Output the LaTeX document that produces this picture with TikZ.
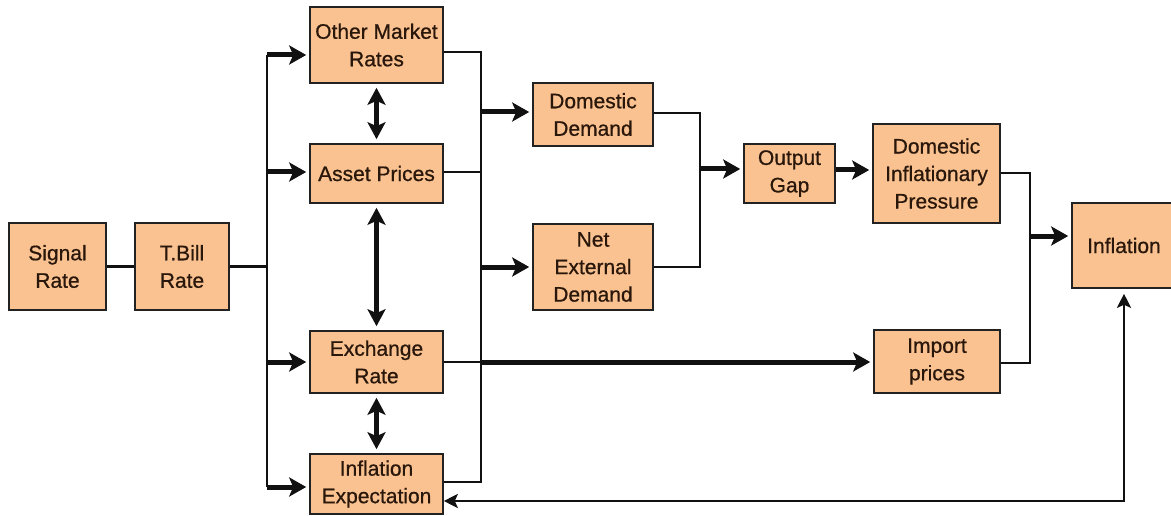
\documentclass[tikz,border=0pt]{standalone}
\usepackage{fontspec}
\setmainfont{Liberation Sans}[FakeBold=0.7]
\usetikzlibrary{arrows.meta}
\definecolor{boxfill}{HTML}{F9C290}
\definecolor{boxline}{HTML}{222222}
\definecolor{txt}{HTML}{2A170B}
\definecolor{ln}{HTML}{111111}
\newcommand\boxfont{\fontsize{21}{27.5}\selectfont}
\tikzset{
  box/.style={draw=boxline, line width=1.6pt, fill=boxfill, text=txt, align=center, inner sep=0pt, font=\boxfont},
  thinln/.style={line width=2.2pt, draw=ln},
  thickarrow/.style={line width=5pt, draw=ln, -{Stealth[length=17pt,width=19pt,inset=4pt]}, shorten >=3pt},
  dblarrow/.style={line width=5pt, draw=ln, {Stealth[length=17pt,width=18pt,inset=4pt]}-{Stealth[length=17pt,width=18pt,inset=4pt]}, shorten >=4pt, shorten <=4pt},
  fbarrow/.style={line width=2.6pt, draw=ln, {Stealth[length=14pt,width=14pt,inset=3pt]}-{Stealth[length=14pt,width=14pt,inset=3pt]}}
}
\begin{document}
\begin{tikzpicture}[x=1pt,y=-1pt]
\clip (0,0) rectangle (1171,516);
\fill[white] (0,0) rectangle (1171,516);

% boxes
\node[box, minimum width=97pt, minimum height=87pt] (signal) at (57.5,266.5) {Signal\\Rate};
\node[box, minimum width=94pt, minimum height=87pt] (tbill) at (182,266.5) {T.Bill\\Rate};
\node[box, minimum width=133pt, minimum height=76pt] (omr) at (376.5,45) {Other Market\\Rates};
\node[box, minimum width=133pt, minimum height=59pt] (asset) at (376.5,173.5) {Asset Prices};
\node[box, minimum width=133pt, minimum height=62pt] (exch) at (376.5,362) {Exchange\\Rate};
\node[box, minimum width=133pt, minimum height=60pt] (infexp) at (376.5,484) {Inflation\\Expectation};
\node[box, minimum width=120pt, minimum height=63pt] (dd) at (593,114.5) {Domestic\\Demand};
\node[box, minimum width=120pt, minimum height=86pt] (ned) at (593,267) {Net\\External\\Demand};
\node[box, minimum width=91pt, minimum height=59pt] (og) at (789.5,173.5) {Output\\Gap};
\node[box, minimum width=127pt, minimum height=99pt] (dip) at (936.5,173.5) {Domestic\\Inflationary\\Pressure};
\node[box, minimum width=126pt, minimum height=63pt] (imp) at (937,361.5) {Import\\prices};
\node[box, minimum width=104pt, minimum height=85pt] (infl) at (1124,245.5) {Inflation};

% trunk coordinates
\coordinate (ltTop) at (267,55);
\coordinate (ltA) at (267,172);
\coordinate (ltB) at (267,362);
\coordinate (ltBot) at (267,487);
\coordinate (rtTop) at (481,52);
\coordinate (rtA) at (481,172);
\coordinate (rtB) at (481,362);
\coordinate (rtBot) at (481,482);
\coordinate (rtDD) at (481,112);
\coordinate (rtNED) at (481,267);
\coordinate (jTop) at (700,113);
\coordinate (jBot) at (700,267);
\coordinate (jMid) at (700,169);
\coordinate (ogOut) at (835,170);
\coordinate (kTop) at (1030,173);
\coordinate (kBot) at (1030,363);
\coordinate (kMid) at (1030,236);
\coordinate (fb) at (1124,501);

% signal -> tbill -> left trunk
\draw[thinln] (signal.east) -- (tbill.west);
\draw[thinln] (tbill.east) -- (tbill.east -| ltTop);
\draw[thinln] (ltTop) -- (ltBot);

% left trunk arrows
\draw[thickarrow] (ltTop) -- (ltTop -| omr.west);
\draw[thickarrow] (ltA) -- (ltA -| asset.west);
\draw[thickarrow] (ltB) -- (ltB -| exch.west);
\draw[thickarrow] (ltBot) -- (ltBot -| infexp.west);

% double arrows between channels
\draw[dblarrow] (omr.south) -- (asset.north);
\draw[dblarrow] (asset.south) -- (exch.north);
\draw[dblarrow] (exch.south) -- (infexp.north);

% channels -> right trunk
\draw[thinln] (rtTop -| omr.east) -- (rtTop) -- (rtBot) -- (rtBot -| infexp.east);
\draw[thinln] (rtA -| asset.east) -- (rtA);
\draw[thinln] (rtB -| exch.east) -- (rtB);

% right trunk -> demand
\draw[thickarrow] (rtDD) -- (rtDD -| dd.west);
\draw[thickarrow] (rtNED) -- (rtNED -| ned.west);

% exchange -> import prices
\draw[thickarrow] (rtB) -- (rtB -| imp.west);

% demand -> output gap
\draw[thinln] (jTop -| dd.east) -- (jTop) -- (jBot) -- (jBot -| ned.east);
\draw[thickarrow] (jMid) -- (jMid -| og.west);

% output gap -> DIP
\draw[thickarrow] (ogOut -| og.east) -- (ogOut -| dip.west);

% DIP, import -> inflation
\draw[thinln] (kTop -| dip.east) -- (kTop) -- (kBot) -- (kBot -| imp.east);
\draw[thickarrow] (kMid) -- (kMid -| infl.west);

% feedback
\draw[fbarrow, shorten <=5pt] (infl.south) -- (fb) -- (fb -| infexp.east);
\end{tikzpicture}
\end{document}
